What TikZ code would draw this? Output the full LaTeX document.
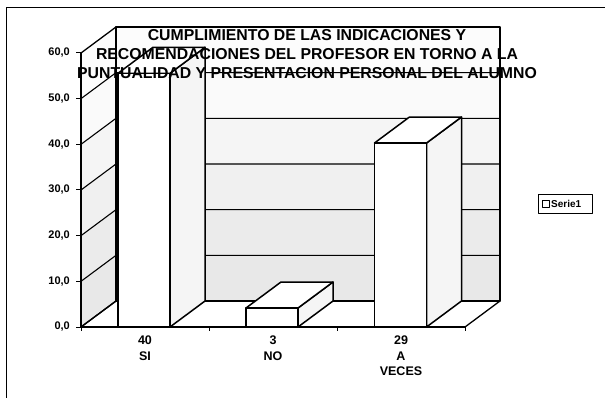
\documentclass[tikz,border=0pt]{standalone}
\usepackage{fontspec}
\setmainfont{Liberation Sans}
\newcommand\mybar[2]{%
  \pgfmathsetmacro\xl{#1-26}\pgfmathsetmacro\xr{#1+26}\pgfmathsetmacro\yt{327-#2}%
  \filldraw[barline, fill=black!4] (\xr,327) -- ++(35,-26) -- ++(0,-#2) -- (\xr,\yt) -- cycle;
  \filldraw[barline, fill=white] (\xl,\yt) -- (\xr,\yt) -- ++(35,-26) -- ++(-52,0) -- cycle;
  \filldraw[barline, fill=white] (\xl,\yt) rectangle (\xr,327);
}
\begin{document}
\begin{tikzpicture}[x=1pt,y=-1pt,line join=round,
  wall/.style={draw=black, line width=1.3pt},
  gridl/.style={draw=black, line width=1.1pt},
  barline/.style={draw=black, line width=1.5pt},
  ylab/.style={anchor=east, font=\fontsize{11}{12}\selectfont\bfseries, inner sep=0pt},
  catlab/.style={anchor=north, align=center, font=\fontsize{12.5}{15.5}\selectfont\bfseries, inner sep=0pt},
  ttl/.style={align=center, font=\fontsize{15.8}{19}\selectfont\bfseries, inner sep=0pt},
  leg/.style={anchor=west, font=\fontsize{10}{12}\selectfont\bfseries, inner sep=0pt}]
\useasboundingbox (0,0) rectangle (605,397);
\fill[white] (0,0) rectangle (605,397);
\draw[line width=1pt] (6,400) -- (6,7) -- (610,7);
% wall bands (faint stipple)
\foreach \k/\g in {0/9,1/8,2/6,3/4,4/2,5/1}{
  \fill[black!\g] (116,{301-\k*45.67}) rectangle (500,{301-(\k+1)*45.67});
  \fill[black!\g] (81,{327-\k*45.67}) -- (116,{301-\k*45.67}) -- (116,{301-(\k+1)*45.67}) -- (81,{327-(\k+1)*45.67}) -- cycle;
}
% floor
\filldraw[wall, fill=white] (81,327) -- (465,327) -- (500,301) -- (116,301) -- cycle;
% walls outline
\draw[wall] (116,27) rectangle (500,301);
\draw[wall] (81,327) -- (116,301) -- (116,27) -- (81,53) -- cycle;
% gridlines
\foreach \k in {1,...,5}{
  \draw[gridl] (81,{327-\k*45.67}) -- (116,{301-\k*45.67}) -- (500,{301-\k*45.67});
}
% bars
\mybar{144}{253.7}
\mybar{272}{19}
\mybar{400.5}{184}
% axes
\draw[wall] (81,327) -- (465,327);
\draw[wall] (81,327) -- (81,53);
\foreach \x in {81,209,337,465}{ \draw[line width=1pt] (\x,327) -- (\x,331); }
\foreach \k/\t in {0/{0,0},1/{10,0},2/{20,0},3/{30,0},4/{40,0},5/{50,0},6/{60,0}}{
  \draw[line width=1pt] (76,{327-\k*45.67}) -- (81,{327-\k*45.67});
  \node[ylab] (y\k) at (70,{327-\k*45.67}) {\t};
}
% category labels
\node[catlab] (c1) at (145,336) {40\\SI};
\node[catlab] (c2) at (273,336) {3\\NO};
\node[catlab] (c3) at (401,336) {29\\A\\VECES};
% title
\node[ttl] (title) at (307,54) {CUMPLIMIENTO DE LAS INDICACIONES Y\\RECOMENDACIONES DEL PROFESOR EN TORNO A LA\\PUNTUALIDAD Y PRESENTACION PERSONAL DEL ALUMNO};
% legend
\draw[line width=1pt] (538,194) rectangle (592,213);
\draw[line width=0.8pt] (542,200) rectangle (549,207);
\node[leg] (legtext) at (551,203.5) {Serie1};
\end{tikzpicture}
\end{document}
